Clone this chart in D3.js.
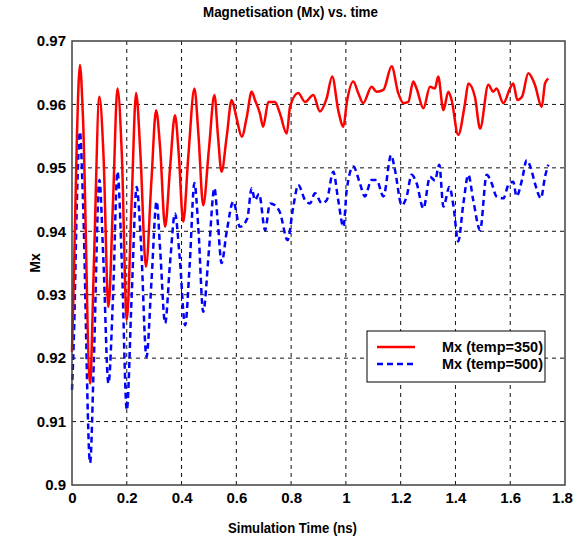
<!DOCTYPE html>
<html>
<head>
<meta charset="utf-8">
<script src="https://cdn.jsdelivr.net/npm/d3@7"></script>
<style>
  body { margin: 0; background: #fff; }
  text { font-family: "Liberation Sans", Arial, sans-serif; font-weight: bold; fill: #000; }
</style>
</head>
<body>
<div id="chart"></div>
<script>
// data
var xTicks = [0, 0.2, 0.4, 0.6, 0.8, 1, 1.2, 1.4, 1.6, 1.8];
var yTicks = [0.9, 0.91, 0.92, 0.93, 0.94, 0.95, 0.96, 0.97];
var yTickLabels = ["0.9", "0.91", "0.92", "0.93", "0.94", "0.95", "0.96", "0.97"];

// Mx (temp=350)
var redTime = [0, 0.008, 0.018, 0.029, 0.04, 0.066, 0.08, 0.1, 0.115, 0.133, 0.15, 0.166, 0.182, 0.2,
  0.218, 0.234, 0.25, 0.27, 0.29, 0.307, 0.322, 0.34, 0.358, 0.376, 0.39, 0.406, 0.425, 0.447, 0.462,
  0.479, 0.5, 0.52, 0.533, 0.546, 0.565, 0.583, 0.6, 0.62, 0.638, 0.656, 0.668, 0.686, 0.698, 0.717,
  0.741, 0.759, 0.784, 0.796, 0.826, 0.851, 0.881, 0.905, 0.93, 0.95, 0.972, 0.991, 1.003, 1.027,
  1.045, 1.063, 1.094, 1.112, 1.137, 1.167, 1.191, 1.21, 1.228, 1.246, 1.258, 1.283, 1.307, 1.325,
  1.337, 1.356, 1.374, 1.386, 1.41, 1.435, 1.447, 1.471, 1.49, 1.52, 1.538, 1.55, 1.575, 1.599,
  1.611, 1.626, 1.643, 1.666, 1.69, 1.715, 1.727, 1.739];
var redMx = [0.921, 0.935, 0.955, 0.9662, 0.958, 0.916, 0.935, 0.9612, 0.952, 0.9281, 0.945, 0.9625, 0.952, 0.926,
  0.945, 0.9618, 0.952, 0.9344, 0.948, 0.9591, 0.953, 0.9407, 0.95, 0.9583, 0.952, 0.9415, 0.952, 0.9625, 0.955,
  0.9441, 0.953, 0.9615, 0.955, 0.9494, 0.955, 0.9607, 0.958, 0.9549, 0.958, 0.962, 0.9607, 0.9586, 0.9565, 0.9604,
  0.9604, 0.9586, 0.9554, 0.9596, 0.9618, 0.9604, 0.9615, 0.9589, 0.961, 0.9644, 0.9591, 0.9565, 0.9602, 0.9636,
  0.9618, 0.9602, 0.9628, 0.962, 0.9623, 0.966, 0.9618, 0.9602, 0.9604, 0.9636, 0.9625, 0.9594, 0.9628, 0.9625,
  0.9644, 0.9591, 0.962, 0.9607, 0.9552, 0.9602, 0.9633, 0.9612, 0.9562, 0.9631, 0.962, 0.9625, 0.9602, 0.9625,
  0.9633, 0.9607, 0.9612, 0.9649, 0.9631, 0.9596, 0.9633, 0.9641];

// Mx (temp=500)
var blueTime = [0, 0.008, 0.018, 0.029, 0.04, 0.066, 0.08, 0.1, 0.115, 0.133, 0.15, 0.166, 0.182, 0.2,
  0.218, 0.236, 0.252, 0.272, 0.29, 0.309, 0.322, 0.34, 0.358, 0.376, 0.393, 0.413, 0.43, 0.447, 0.462,
  0.479, 0.5, 0.52, 0.533, 0.546, 0.565, 0.589, 0.613, 0.64, 0.656, 0.668, 0.683, 0.705, 0.723, 0.741,
  0.759, 0.787, 0.808, 0.826, 0.851, 0.869, 0.887, 0.912, 0.93, 0.954, 0.972, 0.991, 1.003, 1.027,
  1.051, 1.069, 1.094, 1.112, 1.137, 1.165, 1.179, 1.204, 1.222, 1.24, 1.258, 1.283, 1.307, 1.325,
  1.341, 1.356, 1.378, 1.393, 1.41, 1.429, 1.447, 1.465, 1.49, 1.514, 1.532, 1.55, 1.575, 1.593,
  1.611, 1.623, 1.643, 1.66, 1.675, 1.69, 1.712, 1.727, 1.739];
var blueMx = [0.915, 0.925, 0.945, 0.9557, 0.945, 0.9035, 0.92, 0.9481, 0.935, 0.916, 0.93, 0.9494, 0.935, 0.9118,
  0.93, 0.947, 0.938, 0.9202, 0.932, 0.9447, 0.937, 0.9255, 0.935, 0.9428, 0.936, 0.9252, 0.935, 0.9476, 0.94,
  0.9273, 0.937, 0.9468, 0.941, 0.935, 0.94, 0.9447, 0.9407, 0.942, 0.9468, 0.9449, 0.9459, 0.9402, 0.9444, 0.9441,
  0.943, 0.9386, 0.9439, 0.9473, 0.9449, 0.9444, 0.946, 0.9444, 0.9449, 0.9494, 0.9449, 0.9407, 0.9465, 0.9502,
  0.9476, 0.9455, 0.9481, 0.9481, 0.9455, 0.952, 0.9497, 0.9441, 0.9455, 0.9489, 0.9476, 0.9436, 0.9486, 0.948,
  0.9505, 0.9439, 0.947, 0.9439, 0.9384, 0.9444, 0.9489, 0.9449, 0.9402, 0.9489, 0.9476, 0.9455, 0.9452, 0.9473,
  0.9478, 0.9455, 0.9481, 0.9512, 0.95, 0.9476, 0.9452, 0.9486, 0.9505];

var seriesNames = ["Mx (temp=350)", "Mx (temp=500)"];

var svgWidth = 574;
var svgHeight = 545;

var margin = { top: 41, right: 9, bottom: 60, left: 72 };
var width = svgWidth - margin.left - margin.right;
var height = svgHeight - margin.top - margin.bottom;

var svg = d3.select("#chart")
  .append("svg")
  .attr("width", svgWidth)
  .attr("height", svgHeight);

var chartGroup = svg.append("g")
  .attr("transform", `translate(${margin.left}, ${margin.top})`);

var xScale = d3.scaleLinear().domain([0, 1.8]).range([0, width]);
var yScale = d3.scaleLinear().domain([0.9, 0.97]).range([height, 0]);

// dashed grid
chartGroup.append("g")
  .selectAll("line")
  .data(xTicks.slice(1, -1))
  .enter()
  .append("line")
  .attr("x1", d => xScale(d)).attr("x2", d => xScale(d))
  .attr("y1", 0).attr("y2", height)
  .attr("stroke", "#111").attr("stroke-width", 1).attr("stroke-dasharray", "4,4");

chartGroup.append("g")
  .selectAll("line")
  .data(yTicks.slice(1, -1))
  .enter()
  .append("line")
  .attr("x1", 0).attr("x2", width)
  .attr("y1", d => yScale(d)).attr("y2", d => yScale(d))
  .attr("stroke", "#111").attr("stroke-width", 1).attr("stroke-dasharray", "4,4");

// series
var redData = redTime.map((t, i) => [t, redMx[i]]);
var blueData = blueTime.map((t, i) => [t, blueMx[i]]);

var line = d3.line()
  .curve(d3.curveMonotoneX)
  .x(d => xScale(d[0]))
  .y(d => yScale(d[1]));

chartGroup.append("path")
  .datum(blueData)
  .attr("d", line)
  .attr("fill", "none")
  .attr("stroke", "#0000ff")
  .attr("stroke-width", 2.5)
  .attr("stroke-dasharray", "6,4");

chartGroup.append("path")
  .datum(redData)
  .attr("d", line)
  .attr("fill", "none")
  .attr("stroke", "#ff0000")
  .attr("stroke-width", 2.5);

// axes
var bottomAxis = d3.axisBottom(xScale).tickValues(xTicks).tickFormat(d3.format("")).tickSize(0).tickPadding(7);
var leftAxis = d3.axisLeft(yScale).tickValues(yTicks).tickFormat((d, i) => yTickLabels[i]).tickSize(0).tickPadding(6);

var xAxisG = chartGroup.append("g")
  .attr("transform", `translate(0, ${height})`)
  .call(bottomAxis);
var yAxisG = chartGroup.append("g")
  .call(leftAxis);

[xAxisG, yAxisG].forEach(function(g) {
  g.select(".domain").remove();
  g.selectAll("text").style("font-size", "15px").attr("fill", "#000");
});
// last x label sits at the window edge
xAxisG.selectAll("text").filter(d => d === 1.8).attr("dx", "-3");

chartGroup.append("rect")
  .attr("width", width)
  .attr("height", height)
  .attr("fill", "none")
  .attr("stroke", "#404040")
  .attr("stroke-width", 1.5);

// legend
var legend = svg.append("g").attr("transform", "translate(367, 331)");
legend.append("rect")
  .attr("width", 178).attr("height", 51)
  .attr("fill", "#fff").attr("stroke", "#000").attr("stroke-width", 1);

var legendStyles = [
  { color: "#ff0000", dash: null },
  { color: "#0000ff", dash: "6,4" }
];
seriesNames.forEach(function(name, i) {
  var y = 16 + i * 17;
  legend.append("line")
    .attr("x1", 10).attr("x2", 48)
    .attr("y1", y).attr("y2", y)
    .attr("stroke", legendStyles[i].color)
    .attr("stroke-width", 2.5)
    .attr("stroke-dasharray", legendStyles[i].dash);
  legend.append("text")
    .attr("x", 75).attr("y", y + 5)
    .attr("textLength", 101)
    .attr("lengthAdjust", "spacingAndGlyphs")
    .style("font-size", "14px")
    .text(name);
});

// labels
svg.append("text")
  .attr("x", 203).attr("y", 17)
  .attr("textLength", 175)
  .attr("lengthAdjust", "spacingAndGlyphs")
  .style("font-size", "14px")
  .text("Magnetisation (Mx) vs. time");

svg.append("text")
  .attr("x", 228).attr("y", 533)
  .attr("textLength", 129)
  .attr("lengthAdjust", "spacingAndGlyphs")
  .style("font-size", "14px")
  .text("Simulation Time (ns)");

svg.append("text")
  .attr("transform", "translate(40, 263) rotate(-90)")
  .attr("text-anchor", "middle")
  .style("font-size", "14px")
  .text("Mx");
</script>
</body>
</html>
